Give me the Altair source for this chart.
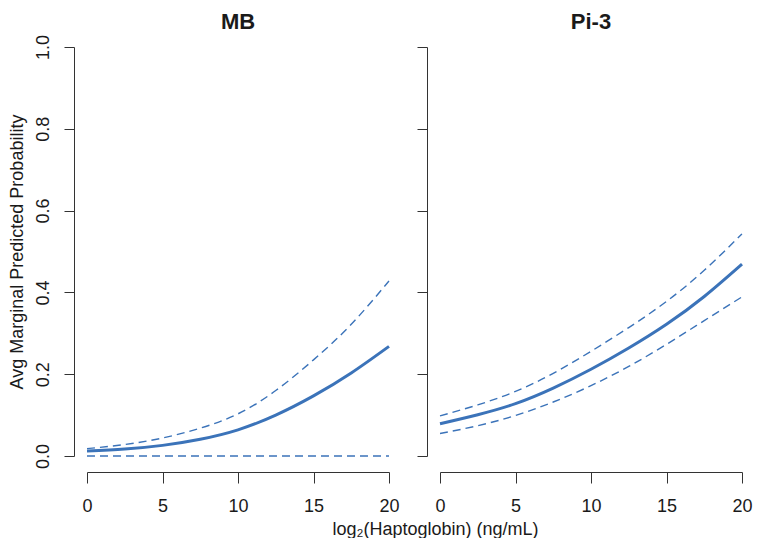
import altair as alt
import pandas as pd

# Data
x_vals = [0, 2.5, 5, 7.5, 10, 12.5, 15, 17.5, 20]

mb_mean = [0.012, 0.017, 0.026, 0.041, 0.064, 0.100, 0.147, 0.203, 0.268]
mb_upper = [0.018, 0.028, 0.044, 0.068, 0.103, 0.160, 0.235, 0.322, 0.428]
mb_lower = [0.000, 0.000, 0.000, 0.000, 0.000, 0.000, 0.000, 0.000, 0.000]

pi_mean = [0.079, 0.101, 0.128, 0.166, 0.212, 0.264, 0.322, 0.390, 0.469]
pi_upper = [0.098, 0.125, 0.158, 0.202, 0.256, 0.314, 0.378, 0.454, 0.543]
pi_lower = [0.055, 0.074, 0.099, 0.132, 0.172, 0.219, 0.273, 0.331, 0.389]

panels = ["MB", "Pi-3"]
x_ticks = [0, 5, 10, 15, 20]
y_ticks = [0.0, 0.2, 0.4, 0.6, 0.8, 1.0]
x_title = "log\u2082(Haptoglobin) (ng/mL)"
y_title = "Avg Marginal Predicted Probability"

LINE = "#3b73b9"
AX = "#333333"
TXT = "#1a1a1a"
FONT = "Liberation Sans"

W = 302
H = 409
GAP = 51


def make_df(mean, upper, lower):
    rows = []
    for s, vals in (("mean", mean), ("upper", upper), ("lower", lower)):
        for x, y in zip(x_vals, vals):
            rows.append({"x": x, "y": y, "series": s})
    return pd.DataFrame(rows)


def panel(title, df, first):
    x_axis_kwargs = dict(
        values=x_ticks, grid=False, offset=16, tickSize=11,
        labelPadding=14, labelFontSize=18, labelFont=FONT, labelColor=TXT,
        domainColor=AX, tickColor=AX, labelFlush=False,
    )
    if first:
        x_axis = alt.Axis(
            title=x_title, titleFontSize=18, titleFont=FONT,
            titleFontWeight="normal", titleColor=TXT,
            titleX=W + GAP - 5, titleY=48, titleAlign="center",
            titleBaseline="top", **x_axis_kwargs,
        )
    else:
        x_axis = alt.Axis(title=None, **x_axis_kwargs)
    x_enc = alt.X(
        "x:Q",
        scale=alt.Scale(domain=[x_ticks[0], x_ticks[-1]], nice=False, zero=False),
        axis=x_axis,
    )
    y_axis_kwargs = dict(
        values=y_ticks, grid=False, offset=13, tickSize=10,
        domainColor=AX, tickColor=AX,
    )
    if first:
        y_axis = alt.Axis(
            title=y_title, format=".1f", labelAngle=270, labelAlign="center",
            labelBaseline="bottom", labelPadding=12, labelFontSize=18,
            labelFont=FONT, labelColor=TXT, titleFontSize=18, titleFont=FONT,
            titleFontWeight="normal", titleColor=TXT, titlePadding=8,
            labelFlush=False, **y_axis_kwargs,
        )
    else:
        y_axis = alt.Axis(title=None, labels=False, **y_axis_kwargs)
    y_enc = alt.Y(
        "y:Q",
        scale=alt.Scale(domain=[y_ticks[0], y_ticks[-1]], nice=False, zero=False),
        axis=y_axis,
    )
    base = alt.Chart(df)
    mean_line = base.transform_filter(alt.datum.series == "mean").mark_line(
        color=LINE, strokeWidth=3, interpolate="natural"
    ).encode(x=x_enc, y=y_enc)
    ci_lines = base.transform_filter(alt.datum.series != "mean").mark_line(
        color=LINE, strokeWidth=1.4, strokeDash=[8, 5], interpolate="natural"
    ).encode(x=x_enc, y=y_enc, detail="series:N")
    return alt.layer(ci_lines, mean_line).properties(
        width=W,
        height=H,
        title=alt.TitleParams(
            title, fontSize=22, fontWeight="bold", font=FONT, color=TXT,
            anchor="middle", offset=0, dy=0 if first else -12.5,
        ),
    )


left = panel(panels[0], make_df(mb_mean, mb_upper, mb_lower), True)
right = panel(panels[1], make_df(pi_mean, pi_upper, pi_lower), False)

chart = alt.hconcat(
    left, right, spacing=GAP, bounds="flush",
).configure_view(stroke=None).properties(
    padding={"left": 0, "top": 3, "right": 0, "bottom": 0},
    background="white",
)

chart.save("out.html", embed_options={"renderer": "svg", "actions": False})
